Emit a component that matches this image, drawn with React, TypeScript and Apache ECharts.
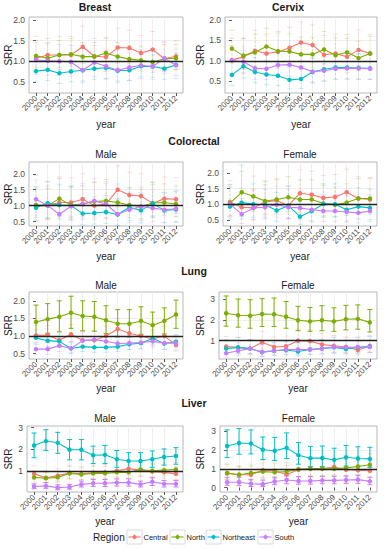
import React, { useEffect, useRef } from "react";
import * as echarts from "echarts";

const YEARS = ["2000","2001","2002","2003","2004","2005","2006","2007","2008","2009","2010","2011","2012"];
const REGIONS = ["Central", "North", "Northeast", "South"];
const COLORS = ["#F8766D", "#7CAE00", "#00BFC4", "#C77CFF"];

// ---- Breast ----
const breastSRR = [
  [1.07,1.15,1.15,1.15,1.35,1.12,1.10,1.33,1.32,1.20,1.28,1.06,1.12],
  [1.13,1.07,1.15,1.17,1.11,1.11,1.20,1.11,1.05,1.02,0.98,1.06,1.07],
  [0.76,0.79,0.71,0.75,0.78,0.82,0.84,0.77,0.78,0.88,0.87,0.82,0.91],
  [1.03,1.01,1.00,0.98,0.78,0.97,0.88,0.78,0.85,0.90,0.87,1.07,0.90],
];
const breastLo = [
  [0.72,0.82,0.80,0.80,0.95,0.78,0.75,0.95,0.95,0.85,0.92,0.75,0.80],
  [0.85,0.78,0.85,0.88,0.82,0.82,0.90,0.84,0.78,0.76,0.73,0.79,0.80],
  [0.50,0.53,0.46,0.50,0.52,0.56,0.58,0.52,0.53,0.62,0.61,0.56,0.65],
  [0.68,0.66,0.65,0.64,0.48,0.63,0.56,0.48,0.54,0.58,0.56,0.70,0.58],
];
const breastHi = [
  [1.60,1.55,1.60,1.60,1.85,1.55,1.58,1.80,1.75,1.62,1.72,1.45,1.50],
  [1.50,1.45,1.50,1.55,1.45,1.45,1.55,1.45,1.38,1.35,1.30,1.40,1.40],
  [1.05,1.08,0.98,1.02,1.05,1.10,1.12,1.04,1.05,1.17,1.15,1.09,1.20],
  [1.45,1.42,1.40,1.38,1.15,1.38,1.27,1.15,1.22,1.28,1.25,1.48,1.28],
];
const breastSolid = [false, false, false, false];

// ---- Cervix ----
const cervixSRR = [
  [1.02,1.10,1.25,1.18,1.22,1.32,1.45,1.39,1.15,1.18,1.10,1.27,1.18],
  [1.30,1.13,1.21,1.35,1.24,1.23,1.16,1.16,1.28,1.14,1.21,1.07,1.18],
  [0.66,0.87,0.73,0.67,0.64,0.54,0.56,0.73,0.80,0.84,0.84,0.83,0.82],
  [1.01,0.98,0.82,0.81,0.90,0.91,0.84,0.74,0.76,0.81,0.82,0.82,0.81],
];
const cervixLo = [
  [0.65,0.72,0.85,0.80,0.82,0.90,1.00,0.95,0.78,0.80,0.72,0.88,0.80],
  [0.95,0.80,0.86,0.98,0.89,0.88,0.83,0.83,0.93,0.81,0.87,0.76,0.85],
  [0.40,0.58,0.47,0.42,0.40,0.32,0.33,0.47,0.52,0.56,0.56,0.55,0.55],
  [0.70,0.68,0.55,0.55,0.62,0.63,0.57,0.48,0.50,0.55,0.56,0.56,0.55],
];
const cervixHi = [
  [1.55,1.55,1.75,1.65,1.72,1.82,1.95,1.88,1.62,1.65,1.55,1.75,1.65],
  [1.75,1.55,1.65,1.80,1.68,1.66,1.58,1.58,1.72,1.56,1.64,1.48,1.60],
  [1.00,1.25,1.08,1.00,0.97,0.85,0.87,1.07,1.15,1.20,1.20,1.18,1.17],
  [1.38,1.35,1.16,1.15,1.26,1.27,1.19,1.07,1.09,1.15,1.16,1.16,1.15],
];
const cervixSolid = [false, false, false, false];

// ---- Colorectal, Male ----
const colorectalMaleSRR = [
  [1.00,1.00,1.10,1.10,1.20,1.00,1.05,1.50,1.33,1.30,1.07,1.22,1.20],
  [1.02,1.00,1.22,1.02,1.05,1.13,1.15,1.10,1.02,0.97,1.08,1.10,1.05],
  [0.93,1.08,1.02,1.00,0.75,0.77,0.80,0.72,0.95,0.85,1.07,0.85,0.88],
  [1.20,1.00,0.73,0.98,1.05,1.15,1.05,0.73,0.87,0.97,0.92,0.87,0.90],
];
const colorectalMaleLo = [
  [0.55,0.58,0.65,0.65,0.72,0.58,0.62,0.95,0.85,0.82,0.65,0.78,0.75],
  [0.62,0.60,0.78,0.62,0.65,0.72,0.74,0.70,0.62,0.58,0.68,0.70,0.66],
  [0.52,0.62,0.58,0.56,0.40,0.42,0.44,0.38,0.53,0.46,0.62,0.46,0.48],
  [0.68,0.55,0.38,0.54,0.58,0.65,0.58,0.38,0.47,0.53,0.50,0.47,0.49],
];
const colorectalMaleHi = [
  [1.80,1.75,1.90,1.88,2.00,1.75,1.82,2.25,2.05,2.00,1.75,1.90,1.88],
  [1.60,1.55,1.85,1.58,1.62,1.72,1.75,1.68,1.58,1.52,1.65,1.68,1.62],
  [1.55,1.75,1.65,1.62,1.25,1.28,1.32,1.20,1.55,1.40,1.72,1.40,1.45],
  [1.95,1.62,1.22,1.60,1.70,1.85,1.70,1.22,1.42,1.58,1.50,1.42,1.47],
];
const colorectalMaleSolid = [false, false, false, false];

// ---- Colorectal, Female ----
const colorectalFemaleSRR = [
  [1.07,0.90,0.88,1.07,1.12,0.95,1.35,1.30,1.20,1.23,1.38,1.18,1.15],
  [1.03,1.38,1.25,1.10,1.15,1.22,1.15,1.15,1.02,0.98,1.05,1.18,1.18],
  [0.92,1.05,1.00,0.98,0.80,0.95,0.60,0.78,1.00,1.00,0.82,0.92,0.88],
  [1.00,0.68,0.88,0.90,0.98,0.90,0.88,0.82,0.78,0.78,0.75,0.72,0.78],
];
const colorectalFemaleLo = [
  [0.62,0.52,0.50,0.62,0.66,0.55,0.82,0.78,0.72,0.74,0.84,0.70,0.68],
  [0.62,0.88,0.78,0.68,0.72,0.76,0.72,0.72,0.62,0.60,0.64,0.74,0.74],
  [0.52,0.60,0.58,0.56,0.45,0.54,0.35,0.44,0.58,0.58,0.46,0.52,0.50],
  [0.58,0.38,0.50,0.52,0.56,0.52,0.50,0.46,0.44,0.44,0.42,0.40,0.44],
];
const colorectalFemaleHi = [
  [1.75,1.50,1.48,1.75,1.82,1.58,2.10,2.05,1.92,1.95,2.12,1.88,1.85],
  [1.62,2.05,1.90,1.72,1.78,1.88,1.78,1.78,1.60,1.55,1.65,1.82,1.82],
  [1.55,2.25,1.65,1.62,1.38,1.58,1.08,1.32,1.65,1.65,1.38,1.52,1.48],
  [1.62,1.18,1.45,1.48,1.58,1.48,1.45,1.36,1.30,1.30,1.26,1.22,1.30],
];
const colorectalFemaleSolid = [false, false, false, false];

// ---- Lung, Male ----
const lungMaleSRR = [
  [1.02,1.03,0.88,1.05,0.88,0.88,1.00,1.20,1.08,1.00,0.92,1.00,0.75],
  [1.40,1.48,1.55,1.66,1.57,1.55,1.45,1.35,1.35,1.43,1.31,1.43,1.61],
  [0.95,0.87,0.85,0.65,0.70,0.68,0.68,0.70,0.77,0.80,0.93,0.79,0.84],
  [0.63,0.63,0.73,0.65,0.87,0.90,0.85,0.79,0.80,0.82,0.85,0.80,0.80],
];
const lungMaleLo = [
  [0.80,0.81,0.68,0.83,0.68,0.68,0.78,0.95,0.85,0.78,0.72,0.78,0.57],
  [1.02,1.08,1.12,1.22,1.15,1.14,1.07,0.98,0.98,1.05,0.95,1.06,1.22],
  [0.76,0.70,0.68,0.52,0.56,0.54,0.54,0.56,0.62,0.64,0.75,0.63,0.68],
  [0.48,0.48,0.56,0.50,0.68,0.70,0.66,0.61,0.62,0.64,0.66,0.62,0.62],
];
const lungMaleHi = [
  [1.30,1.30,1.13,1.33,1.13,1.13,1.28,1.50,1.36,1.28,1.18,1.28,0.98],
  [1.88,1.92,2.00,2.13,2.00,1.98,1.86,1.75,1.75,1.83,1.68,1.80,2.02],
  [1.18,1.08,1.06,0.82,0.88,0.86,0.86,0.88,0.96,1.00,1.15,0.98,1.04],
  [0.82,0.82,0.94,0.85,1.10,1.14,1.08,1.01,1.02,1.04,1.08,1.02,1.02],
];
const lungMaleSolid = [false, true, false, false];

// ---- Lung, Female ----
const lungFemaleSRR = [
  [0.72,0.68,0.62,0.92,0.70,0.73,1.00,0.98,0.82,0.75,0.70,0.55,0.75],
  [2.32,2.22,2.20,2.28,2.27,2.15,1.98,1.93,1.98,1.93,2.03,2.05,1.88],
  [0.62,0.68,0.62,0.45,0.52,0.55,0.48,0.58,0.62,0.68,0.60,0.68,0.72],
  [0.40,0.52,0.62,0.45,0.52,0.58,0.58,0.58,0.62,0.70,0.68,0.70,0.70],
];
const lungFemaleLo = [
  [0.42,0.40,0.36,0.58,0.42,0.44,0.65,0.64,0.50,0.45,0.42,0.32,0.45],
  [1.70,1.65,1.60,1.68,1.68,1.60,1.48,1.45,1.48,1.45,1.52,1.55,1.42],
  [0.36,0.40,0.36,0.25,0.30,0.32,0.28,0.34,0.36,0.40,0.35,0.40,0.43],
  [0.22,0.30,0.36,0.25,0.30,0.34,0.34,0.34,0.36,0.42,0.40,0.42,0.42],
];
const lungFemaleHi = [
  [1.20,1.15,1.05,1.45,1.18,1.22,1.55,1.52,1.35,1.25,1.18,0.95,1.25],
  [3.15,3.00,2.97,3.02,3.05,2.88,2.65,2.60,2.68,2.58,2.70,2.72,2.50],
  [1.05,1.15,1.05,0.80,0.90,0.95,0.85,1.00,1.05,1.15,1.02,1.15,1.20],
  [0.72,0.90,1.05,0.80,0.90,1.00,1.00,1.00,1.05,1.18,1.15,1.18,1.18],
];
const lungFemaleSolid = [false, true, false, false];

// ---- Liver, Male ----
const liverMaleSRR = [
  [0.88,0.70,0.80,0.92,0.88,0.93,0.95,1.02,1.12,1.05,0.98,0.95,0.88],
  [0.72,0.68,0.72,0.90,0.85,0.90,0.90,0.95,0.95,1.08,1.02,1.05,1.08],
  [2.18,2.38,2.30,1.98,1.98,1.73,1.75,1.55,1.47,1.47,1.55,1.65,1.70],
  [0.30,0.33,0.25,0.28,0.40,0.45,0.45,0.48,0.48,0.40,0.52,0.42,0.42],
];
const liverMaleLo = [
  [0.62,0.48,0.56,0.66,0.62,0.66,0.68,0.74,0.82,0.76,0.70,0.68,0.62],
  [0.50,0.48,0.50,0.65,0.60,0.65,0.65,0.70,0.70,0.80,0.75,0.78,0.80],
  [1.62,1.95,1.82,1.52,1.52,1.35,1.35,1.18,1.12,1.10,1.18,1.28,1.32],
  [0.20,0.22,0.15,0.18,0.28,0.30,0.30,0.32,0.32,0.28,0.35,0.28,0.28],
];
const liverMaleHi = [
  [1.25,1.02,1.12,1.28,1.22,1.28,1.30,1.38,1.45,1.38,1.32,1.28,1.20],
  [1.00,0.95,1.00,1.22,1.15,1.22,1.22,1.28,1.28,1.42,1.35,1.38,1.40],
  [2.75,2.90,2.78,2.45,2.45,2.15,2.18,1.95,1.85,1.85,1.93,2.02,2.08],
  [0.42,0.48,0.38,0.40,0.55,0.62,0.62,0.65,0.65,0.55,0.70,0.58,0.58],
];
const liverMaleSolid = [false, false, true, true];

// ---- Liver, Female ----
const liverFemaleSRR = [
  [0.75,0.68,0.68,0.92,0.90,0.70,0.95,1.02,1.02,1.10,0.95,0.92,0.90],
  [0.78,0.68,0.78,0.85,0.82,0.85,0.98,1.00,1.00,1.00,1.05,1.12,1.22],
  [2.22,2.38,2.35,2.02,1.97,2.12,1.73,1.57,1.58,1.48,1.62,1.55,1.53],
  [0.28,0.28,0.20,0.18,0.32,0.40,0.35,0.35,0.38,0.38,0.40,0.42,0.33],
];
const liverFemaleLo = [
  [0.42,0.38,0.38,0.55,0.52,0.40,0.58,0.62,0.62,0.68,0.58,0.55,0.55],
  [0.45,0.40,0.45,0.50,0.48,0.50,0.60,0.62,0.62,0.62,0.65,0.70,0.78],
  [1.60,1.78,1.80,1.50,1.45,1.55,1.25,1.12,1.12,1.05,1.15,1.12,1.08],
  [0.12,0.10,0.05,0.05,0.15,0.20,0.18,0.18,0.20,0.20,0.22,0.22,0.15],
];
const liverFemaleHi = [
  [1.25,1.15,1.15,1.45,1.42,1.18,1.50,1.58,1.58,1.68,1.50,1.45,1.42],
  [1.25,1.12,1.25,1.32,1.30,1.32,1.48,1.52,1.52,1.52,1.58,1.68,1.80],
  [3.08,3.15,3.08,2.70,2.68,2.92,2.40,2.20,2.22,2.10,2.25,2.18,2.15],
  [0.55,0.55,0.42,0.40,0.55,0.62,0.58,0.58,0.60,0.60,0.62,0.65,0.55],
];
const liverFemaleSolid = [false, false, true, true];

const Y_TICKS_HALF = [0.5, 1.0, 1.5, 2.0];
const Y_TICKS_ONE = [0, 1, 2, 3];

const PANEL_DATA = [
  { srr: breastSRR, lo: breastLo, hi: breastHi, solid: breastSolid },
  { srr: cervixSRR, lo: cervixLo, hi: cervixHi, solid: cervixSolid },
  { srr: colorectalMaleSRR, lo: colorectalMaleLo, hi: colorectalMaleHi, solid: colorectalMaleSolid },
  { srr: colorectalFemaleSRR, lo: colorectalFemaleLo, hi: colorectalFemaleHi, solid: colorectalFemaleSolid },
  { srr: lungMaleSRR, lo: lungMaleLo, hi: lungMaleHi, solid: lungMaleSolid },
  { srr: lungFemaleSRR, lo: lungFemaleLo, hi: lungFemaleHi, solid: lungFemaleSolid },
  { srr: liverMaleSRR, lo: liverMaleLo, hi: liverMaleHi, solid: liverMaleSolid },
  { srr: liverFemaleSRR, lo: liverFemaleLo, hi: liverFemaleHi, solid: liverFemaleSolid },
];

// layout (pixel geometry + axis ranges)
const LAYOUT = [
  { left: 29, top: 17, width: 154, height: 76, yMin: 0.23, yMax: 2.07, step: 0.5 },
  { left: 225, top: 17, width: 152, height: 76, yMin: 0.22, yMax: 2.07, step: 0.5 },
  { left: 29, top: 162, width: 154, height: 64, yMin: 0.36, yMax: 2.37, step: 0.5 },
  { left: 223, top: 162, width: 154, height: 64, yMin: 0.30, yMax: 2.35, step: 0.5 },
  { left: 29, top: 292, width: 154, height: 67, yMin: 0.35, yMax: 2.25, step: 0.5 },
  { left: 219, top: 292, width: 158, height: 67, yMin: 0.12, yMax: 3.34, step: 1 },
  { left: 27, top: 426, width: 156, height: 66, yMin: 0.05, yMax: 3.07, step: 1 },
  { left: 220, top: 426, width: 157, height: 66, yMin: -0.24, yMax: 3.29, step: 1 },
];

const FONT = "'Liberation Sans', Arial, Helvetica, sans-serif";

function makeErrRender(color: string, solid: boolean) {
  return (params: any, api: any) => {
    const x = api.value(0);
    const lo = api.coord([x, api.value(1)]);
    const hi = api.coord([x, api.value(2)]);
    const w = 2.5;
    const style: any = solid
      ? { stroke: color, lineWidth: 1, opacity: 1 }
      : { stroke: color, lineWidth: 0.8, opacity: 0.22, lineDash: [2, 2] };
    const capStyle: any = solid ? style : { stroke: color, lineWidth: 0.8, opacity: 0.3 };
    return {
      type: "group",
      children: [
        { type: "line", shape: { x1: lo[0], y1: lo[1], x2: hi[0], y2: hi[1] }, style },
        { type: "line", shape: { x1: hi[0] - w, y1: hi[1], x2: hi[0] + w, y2: hi[1] }, style: capStyle },
        { type: "line", shape: { x1: lo[0] - w, y1: lo[1], x2: lo[0] + w, y2: lo[1] }, style: capStyle },
      ],
    };
  };
}

function text(x: number, y: number, t: string, size: number, bold = false, rot = 0, align = "center") {
  return {
    type: "text",
    x,
    y,
    rotation: rot,
    silent: true,
    style: {
      text: t,
      fontSize: size,
      fontFamily: FONT,
      fontWeight: bold ? "bold" : "normal",
      fill: "#1a1a1a",
      align,
      verticalAlign: "middle",
    },
  };
}

export default function App() {
  const ref = useRef<HTMLDivElement>(null);
  useEffect(() => {
    if (!ref.current) return;
    const chart = echarts.init(ref.current, undefined, { renderer: "svg" });

    const grids: any[] = [];
    const xAxes: any[] = [];
    const yAxes: any[] = [];
    const series: any[] = [];

    LAYOUT.forEach((L, p) => {
      grids.push({
        left: L.left,
        top: L.top,
        width: L.width,
        height: L.height,
        show: true,
        backgroundColor: "#ffffff",
        borderColor: "#a6a6a6",
        borderWidth: 0.8,
        containLabel: false,
      });
      const xIdx = YEARS.map((_, i) => i);
      xAxes.push({
        type: "value",
        gridIndex: p,
        min: -0.6,
        max: 12.6,
        minInterval: 1,
        maxInterval: 1,
        axisLine: { show: false },
        axisTick: { show: true, length: 3, lineStyle: { color: "#333", width: 0.8 }, customValues: xIdx },
        axisLabel: {
          show: true,
          rotate: 45,
          fontSize: 8,
          fontFamily: FONT,
          color: "#4d4d4d",
          margin: 4,
          customValues: xIdx,
          formatter: (v: number) => (Math.abs(v - Math.round(v)) < 1e-6 && YEARS[Math.round(v)]) || "",
        },
        splitLine: { show: true, showMinLine: false, showMaxLine: false, lineStyle: { color: "#ebebeb", width: 0.8 } },
      });
      const yt = (L.step === 1 ? Y_TICKS_ONE : Y_TICKS_HALF).filter((v) => v >= L.yMin && v <= L.yMax);
      yAxes.push({
        type: "value",
        gridIndex: p,
        min: L.yMin,
        max: L.yMax,
        minInterval: L.step,
        maxInterval: L.step,
        axisLine: { show: false },
        axisTick: { show: true, length: 3, lineStyle: { color: "#333", width: 0.8 }, customValues: yt },
        axisLabel: {
          show: true,
          fontSize: 8.5,
          fontFamily: FONT,
          color: "#4d4d4d",
          margin: 4,
          customValues: yt,
          formatter: (v: number) => {
            const k = v / L.step;
            if (Math.abs(k - Math.round(k)) > 1e-6) return "";
            return L.step === 1 ? String(Math.round(v)) : v.toFixed(1);
          },
        },
        splitLine: { show: true, showMinLine: false, showMaxLine: false, lineStyle: { color: "#ebebeb", width: 0.8 } },
      });

      const D = PANEL_DATA[p];
      REGIONS.forEach((r, k) => {
        series.push({
          type: "custom",
          name: r + "_ci_" + p,
          xAxisIndex: p,
          yAxisIndex: p,
          silent: true,
          z: D.solid[k] ? 2 : 1,
          renderItem: makeErrRender(COLORS[k], D.solid[k]),
          data: YEARS.map((_, i) => [i, D.lo[k][i], D.hi[k][i]]),
        });
      });
      REGIONS.forEach((r, k) => {
        const s: any = {
          type: "line",
          name: r,
          xAxisIndex: p,
          yAxisIndex: p,
          silent: true,
          z: 3,
          symbol: "circle",
          symbolSize: 4.5,
          showSymbol: true,
          itemStyle: { color: COLORS[k] },
          lineStyle: { color: COLORS[k], width: 1.1 },
          data: YEARS.map((_, i) => [i, D.srr[k][i]]),
        };
        if (k === REGIONS.length - 1) {
          s.z = 4;
          s.markLine = {
            silent: true,
            symbol: "none",
            label: { show: false },
            emphasis: { disabled: true },
            lineStyle: { color: "#222", width: 1.3, type: "solid" },
            data: [{ yAxis: 1 }],
          };
        }
        series.push(s);
      });
    });

    const elements: any[] = [];
    // titles
    elements.push(text(95, 7, "Breast", 10.5, true));
    elements.push(text(288, 7, "Cervix", 10.5, true));
    elements.push(text(194, 141, "Colorectal", 10.5, true));
    elements.push(text(194, 271, "Lung", 10.5, true));
    elements.push(text(194, 403, "Liver", 10.5, true));
    const subY = [154, 154, 285, 285, 418, 418];
    [2, 3, 4, 5, 6, 7].forEach((p, j) => {
      const L = LAYOUT[p];
      elements.push(text(L.left + L.width / 2, subY[j], p % 2 === 0 ? "Male" : "Female", 10));
    });
    const yearY = [124, 124, 256, 256, 388, 388, 521, 521];
    LAYOUT.forEach((L, p) => {
      elements.push(text(L.left + L.width / 2, yearY[p], "year", 10));
      const sx = p % 2 === 0 ? 8 : 200;
      elements.push(text(sx, L.top + L.height / 2, "SRR", 10, false, Math.PI / 2));
    });
    // legend
    const legY = 537;
    elements.push(text(93, legY, "Region", 10, false, 0, "left"));
    const keyX = [127, 170, 206, 258];
    REGIONS.forEach((r, k) => {
      const x0 = keyX[k];
      elements.push({
        type: "rect",
        silent: true,
        shape: { x: x0, y: legY - 7, width: 15, height: 14 },
        style: { fill: "#ffffff", stroke: "#d0d0d0", lineWidth: 0.8 },
      });
      elements.push({
        type: "line",
        silent: true,
        shape: { x1: x0 + 1.5, y1: legY, x2: x0 + 13.5, y2: legY },
        style: { stroke: COLORS[k], lineWidth: 1.1 },
      });
      elements.push({
        type: "line",
        silent: true,
        shape: { x1: x0 + 7.5, y1: legY - 3, x2: x0 + 7.5, y2: legY + 3 },
        style: { stroke: COLORS[k], lineWidth: 0.8, opacity: 0.5 },
      });
      elements.push({
        type: "circle",
        silent: true,
        shape: { cx: x0 + 7.5, cy: legY, r: 2 },
        style: { fill: COLORS[k] },
      });
      elements.push(text(x0 + 16.5, legY, r, 7.5, false, 0, "left"));
    });

    chart.setOption({
      animation: false,
      backgroundColor: "#ffffff",
      grid: grids,
      xAxis: xAxes,
      yAxis: yAxes,
      series,
      graphic: { elements },
    });
    return () => chart.dispose();
  }, []);

  return (
    <div
      ref={ref}
      style={{ position: "fixed", left: 0, top: 0, width: 388, height: 550, background: "#fff" }}
    />
  );
}
